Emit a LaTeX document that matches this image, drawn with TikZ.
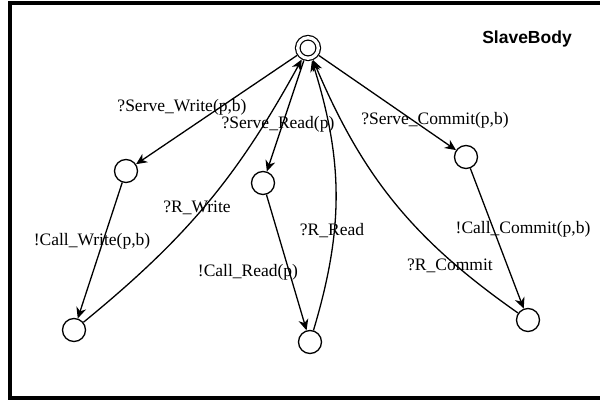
\documentclass[tikz,border=0pt]{standalone}
\usepackage{fontspec}
\setmainfont{Liberation Serif}
\newfontfamily\titlefont{Liberation Sans}
\usetikzlibrary{arrows.meta,calc}
\tikzstyle{st}=[circle,draw=black,line width=1.3pt,fill=white,
  minimum size=23pt,inner sep=0pt]
\tikzstyle{ini}=[circle,draw=black,line width=1.2pt,double,double distance=3.3pt,
  minimum size=20.5pt,inner sep=0pt,outer sep=2.9pt]
\tikzstyle{lbl}=[inner sep=0pt,font=\fontsize{17.5}{20}\selectfont]
\tikzstyle{tr}=[-{Stealth[length=11pt,width=10pt,inset=3.5pt]},line width=1.3pt]
\tikzstyle{none}=[]

\begin{document}
\begin{tikzpicture}[x=1pt,y=1pt]
		\useasboundingbox (0,0) rectangle (600,401);
		\draw [line width=4pt] (600,397.5) -- (9.5,397.5) -- (9.5,3) -- (600,3);
		\node [style=ini] (0) at (308, 353) {};
		\node [style=st] (1) at (126, 230) {};
		\node [style=st] (2) at (74, 71) {};
		\node [style=st] (3) at (263, 218) {};
		\node [style=st] (4) at (310, 59) {};
		\node [style=st] (5) at (466, 244) {};
		\node [style=st] (6) at (528, 81) {};
		\node [style=lbl] (7) at (182, 294) {?Serve\_Write(p,b)};
		\node [style=lbl] (8) at (92, 160) {!Call\_Write(p,b)};
		\node [style=lbl] (9) at (197, 193) {?R\_Write};
		\node [style=lbl] (10) at (278, 277) {?Serve\_Read(p)};
		\node [style=lbl] (11) at (248, 129) {!Call\_Read(p)};
		\node [style=lbl] (12) at (332, 170) {?R\_Read};
		\node [style=lbl] (13) at (435, 281) {?Serve\_Commit(p,b)};
		\node [style=lbl] (14) at (523, 172) {!Call\_Commit(p,b)};
		\node [style=lbl] (15) at (450, 135) {?R\_Commit};
		\node [style=none,font=\titlefont\bfseries\fontsize{17.5}{20}\selectfont] (16) at (527, 362) {SlaveBody};
		\draw [style=tr] (0) to (1);
		\draw [style=tr] (1) to (2);
		\draw [style=tr, bend right=11] (2) to (0);
		\draw [style=tr] (0) to (3);
		\draw [style=tr] (3) to (4);
		\draw [style=tr, bend right=17] (4) to (0);
		\draw [style=tr] (0) to (5);
		\draw [style=tr] (5) to (6);
		\draw [style=tr, bend left=16] (6) to (0);
\end{tikzpicture}
\end{document}
